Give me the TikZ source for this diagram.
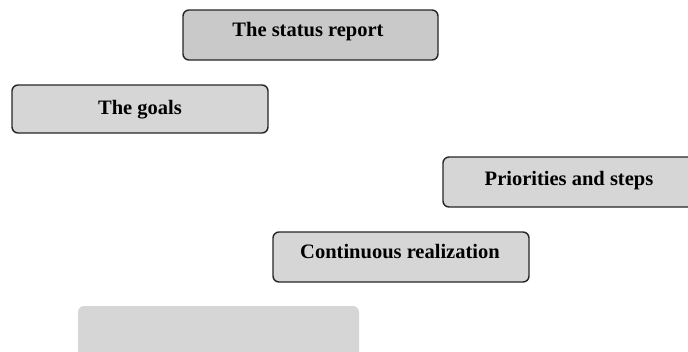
\documentclass[tikz,border=0pt]{standalone}
\usepackage{fontspec}
\setmainfont{Liberation Serif}
\begin{document}
\begin{tikzpicture}[x=1pt,y=-1pt,
  box/.style={draw=black!85,line width=1.4pt,rounded corners=6pt,fill=boxgray,inner sep=0pt},
  lbl/.style={font=\fontsize{20.5}{24}\selectfont\bfseries,inner sep=0pt,anchor=base}]
\definecolor{boxgray}{HTML}{D6D6D6}
\definecolor{boxdark}{HTML}{C9C9C9}
\useasboundingbox (0,0) rectangle (688,351);
\clip (0,0) rectangle (688,351);
\node[box,fill=boxdark,minimum width=255pt,minimum height=50pt] (s) at (310.5,35) {};
\node[lbl] (st) at (308,36) {The status report};
\node[box,minimum width=256pt,minimum height=48pt] (g) at (140,109) {};
\node[lbl] (gt) at (140,114) {The goals};
\node[box,minimum width=260pt,minimum height=50pt] (p) at (573,182) {};
\node[lbl] (pt) at (569,185) {Priorities and steps};
\node[box,minimum width=256pt,minimum height=50pt] (c) at (401,257) {};
\node[lbl] (ct) at (400,258) {Continuous realization};
\node[box,draw=none,minimum width=281pt,minimum height=60pt] (b) at (218.5,336) {};
\end{tikzpicture}
\end{document}
